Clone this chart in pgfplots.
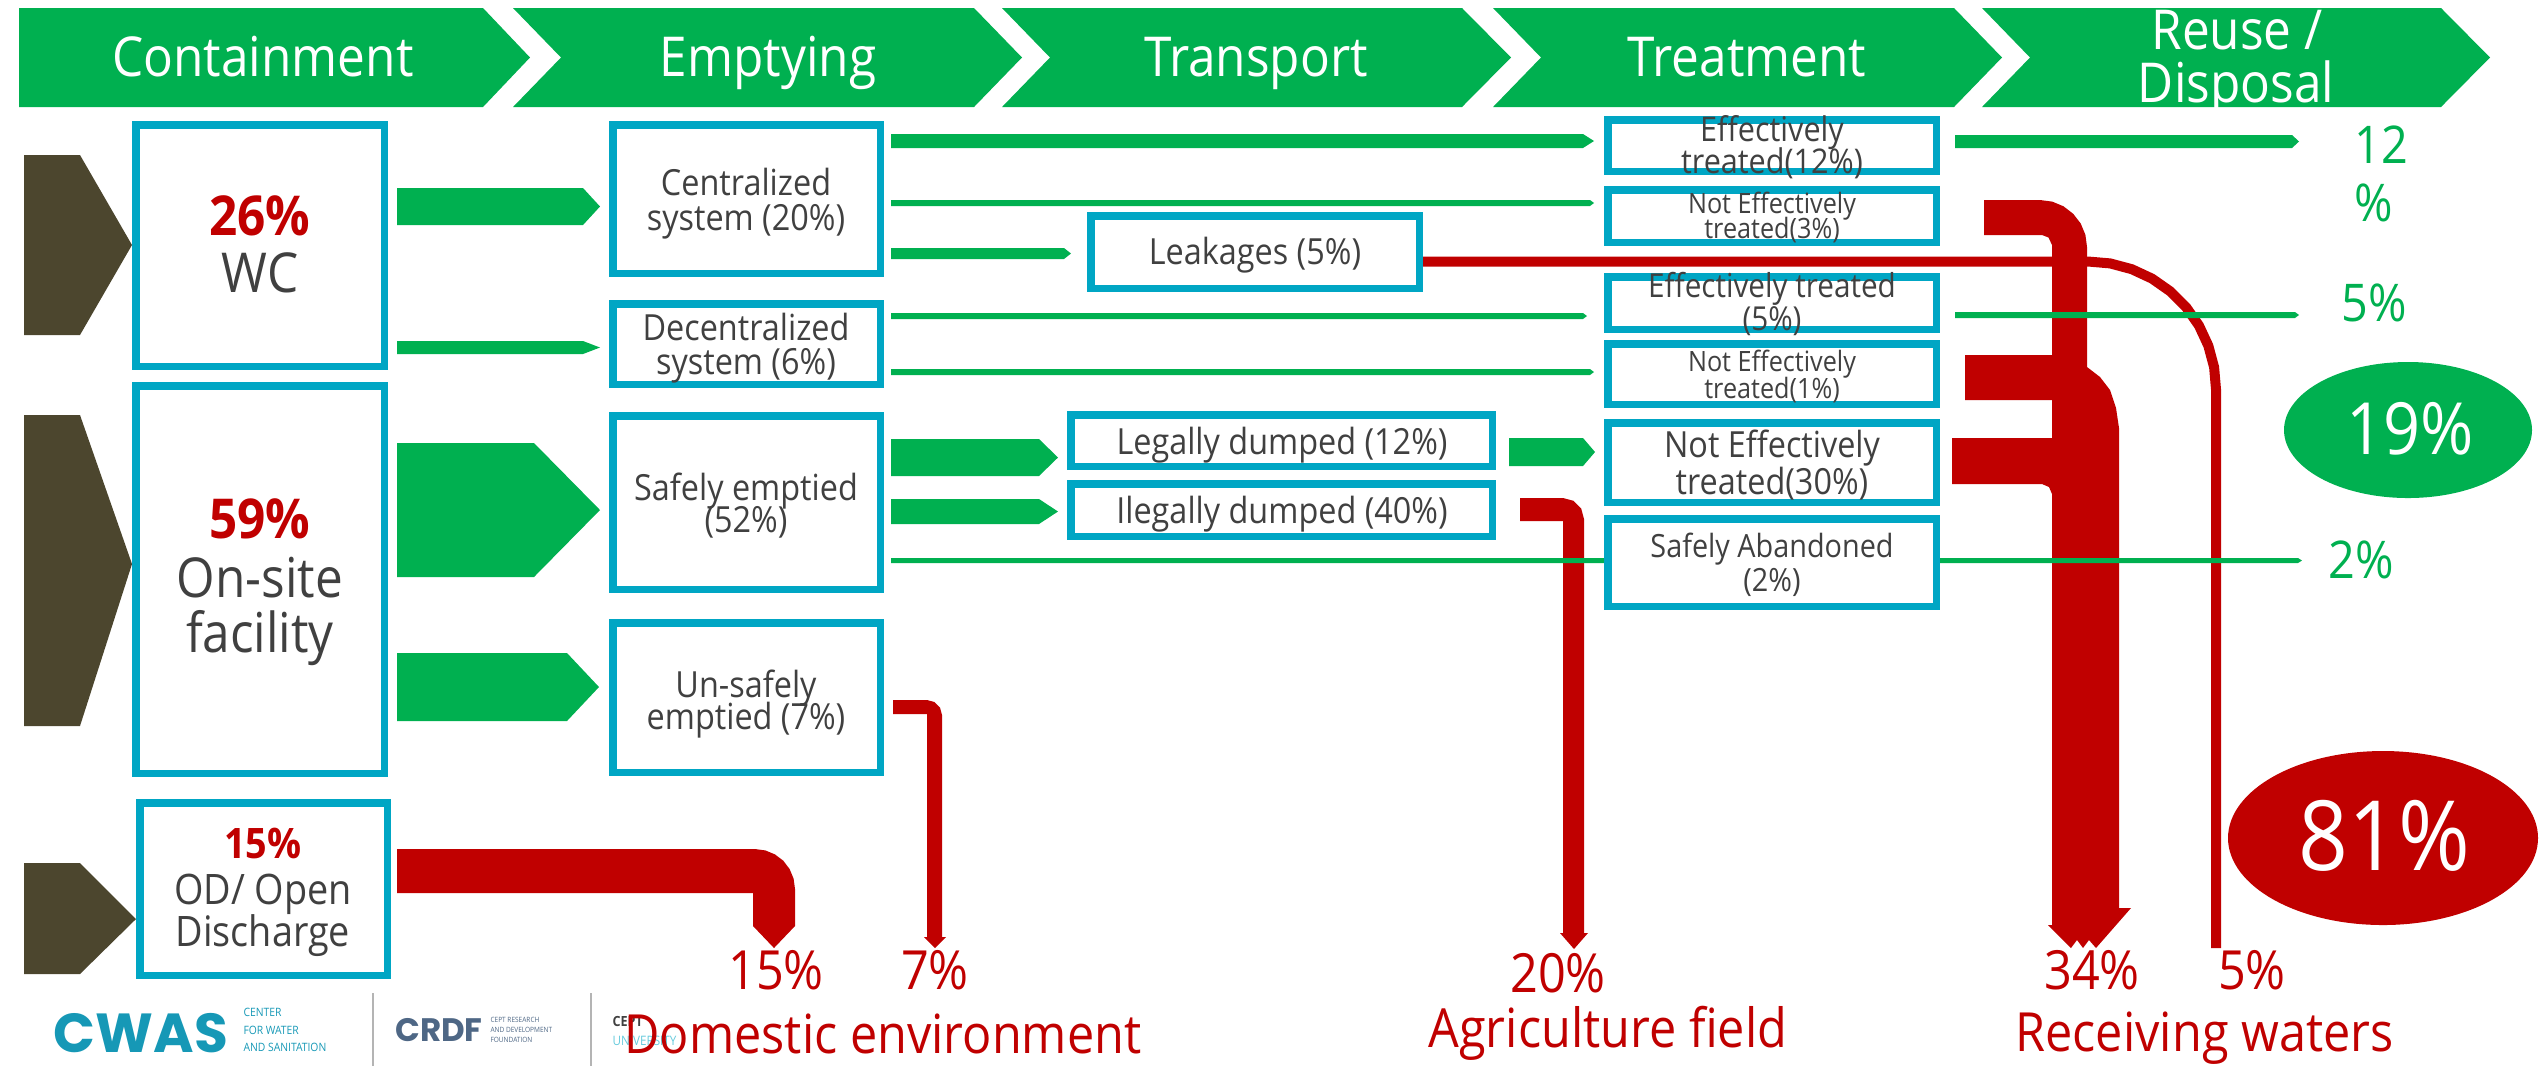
\documentclass[border=0pt]{standalone}
\usepackage{fontspec}
\setmainfont{Open Sans}[FakeStretch=0.9]
\newfontfamily\pop{Poppins}
\usepackage{pgfplots}
\pgfplotsset{compat=1.18}
\usetikzlibrary{shapes.geometric}
\definecolor{gr}{RGB}{0,176,80}
\definecolor{rd}{RGB}{192,0,0}
\definecolor{boxc}{RGB}{0,166,196}
\definecolor{txt}{RGB}{64,64,64}
\definecolor{olive}{RGB}{76,70,46}
\definecolor{cwas}{RGB}{22,152,182}
\definecolor{crdf}{RGB}{78,103,133}
\definecolor{sep}{RGB}{180,180,180}
\tikzset{lb/.style={anchor=base,inner sep=0pt},
  tiny/.style={anchor=base west,inner sep=0pt,text height=0.72em,text depth=0pt}}
\newcommand{\fs}[1]{\fontsize{#1pt}{#1pt}\selectfont}
\newcommand{\bx}[4]{\draw[boxc,line width=3pt,fill=white] (axis cs:#1,#2) rectangle (axis cs:#3,#4);}
\begin{document}
\begin{tikzpicture}
\begin{axis}[width=1015.6pt,height=426.4pt,scale only axis,
  xmin=0,xmax=2539,ymin=0,ymax=1066,y dir=reverse,hide axis,clip=false]
\addplot[draw=none] coordinates {(0,0) (2539,1066)};
\coordinate (TL) at (axis cs:0,0);
\coordinate (BR) at (axis cs:2539,1066);
% banner
\addplot[fill=gr,draw=none] coordinates {(19,8)(483,8)(530,57.5)(483,107)(19,107)};
\addplot[fill=gr,draw=none] coordinates {(513,8)(974,8)(1022,57.5)(974,107)(513,107)(561,57.5)};
\addplot[fill=gr,draw=none] coordinates {(1002,8)(1462,8)(1511,57.5)(1462,107)(1002,107)(1050,57.5)};
\addplot[fill=gr,draw=none] coordinates {(1493,8)(1954,8)(2002,57.5)(1954,107)(1493,107)(1541,57.5)};
\addplot[fill=gr,draw=none] coordinates {(1982,8)(2441,8)(2490,57.5)(2441,107)(1982,107)(2030,57.5)};
% olive chevrons
\addplot[fill=olive,draw=none] coordinates {(24,155)(80,155)(132,245)(80,335)(24,335)};
\addplot[fill=olive,draw=none] coordinates {(24,415)(80,415)(132,564)(80,726)(24,726)};
\addplot[fill=olive,draw=none] coordinates {(24,863)(80,863)(136,919)(80,974)(24,974)};
% red flows
\addplot[fill=rd,draw=none] coordinates {(397,849)(755,849)(765.4,850.4)(775,854.4)(783.3,860.7)(789.6,869)(793.6,878.6)(795,889)(795,926)(774,948)(753,926)(753,893)(397,893)};
\addplot[fill=rd,draw=none] coordinates {(893,700)(927,700)(934.5,702)(940,707.5)(942,715)(942,937)(946,937)(935,948)(924,937)(927,937)(927,714)(893,714)};
\addplot[fill=rd,draw=none] coordinates {(1520,498)(1563,498)(1573.5,500.8)(1581.2,508.5)(1584,519)(1584,933)(1588,933)(1574,949)(1560,933)(1563,933)(1563,521)(1520,521)};
\addplot[fill=rd,draw=none] coordinates {(1984,200)(2040,200)(2052.2,201.6)(2063.5,206.3)(2073.2,213.8)(2080.7,223.5)(2085.4,234.8)(2087,247)(2087,367)(2100,377)(2110,390)(2116,408)(2119,428)(2119,908)(2131,908)(2096,948)(2089,940)(2083,948)(2077,940)(2071,948)(2048,925)(2052,925)(2052,494)(2049,487)(2042,484)(1952,484)(1952,438)(2052,438)(2052,400)(1965,400)(1965,355)(2052,355)(2052,245)(2048.5,237.5)(2042,235)(1984,235)};
\addplot[rd,line width=4pt] coordinates {(1420,261.5)(2088,261.5)(2110.2,263.4)(2131.8,269.2)(2152,278.6)(2170.3,291.4)(2186.1,307.2)(2198.9,325.5)(2208.3,345.7)(2214.1,367.3)(2216,389.5)(2216,948)};
% green flows
\addplot[fill=gr,draw=none] coordinates {(397,188)(583,188)(600,206.5)(583,225)(397,225)};
\addplot[fill=gr,draw=none] coordinates {(397,341)(583,341)(600,347.5)(583,354)(397,354)};
\addplot[fill=gr,draw=none] coordinates {(397,443)(534,443)(600,510)(534,577)(397,577)};
\addplot[fill=gr,draw=none] coordinates {(397,653)(567,653)(599,687)(567,721)(397,721)};
\addplot[fill=gr,draw=none] coordinates {(891,134)(1583,134)(1594,141)(1583,148)(891,148)};
\addplot[fill=gr,draw=none] coordinates {(891,200)(1590,200)(1594,203)(1590,206)(891,206)};
\addplot[fill=gr,draw=none] coordinates {(891,248)(1064,248)(1071,253.5)(1064,259)(891,259)};
\addplot[fill=gr,draw=none] coordinates {(891,313)(1583,313)(1587,316)(1583,319)(891,319)};
\addplot[fill=gr,draw=none] coordinates {(891,369)(1590,369)(1594,372)(1590,375)(891,375)};
\addplot[fill=gr,draw=none] coordinates {(891,439)(1039,439)(1058,457.5)(1039,476)(891,476)};
\addplot[fill=gr,draw=none] coordinates {(891,499)(1039,499)(1058,511.5)(1039,524)(891,524)};
\addplot[fill=gr,draw=none] coordinates {(891,558)(2298,558)(2302,560.5)(2298,563)(891,563)};
\addplot[fill=gr,draw=none] coordinates {(1509,438)(1583,438)(1595,452)(1583,466)(1509,466)};
\addplot[fill=gr,draw=none] coordinates {(1955,135)(2292,135)(2299,141.5)(2292,148)(1955,148)};
\addplot[fill=gr,draw=none] coordinates {(1955,312)(2295,312)(2299,315)(2295,318)(1955,318)};
% boxes
\bx{135.75}{124.75}{384.25}{366.25}
\bx{135.75}{385.75}{384.25}{773.25}
\bx{139.75}{802.75}{387.25}{975.25}
\bx{612.75}{124.75}{880.25}{273.25}
\bx{612.75}{303.75}{880.25}{384.25}
\bx{612.75}{415.75}{880.25}{589.25}
\bx{612.75}{622.75}{880.25}{772.25}
\bx{1090.75}{215.75}{1419.25}{288.25}
\bx{1070.75}{414.75}{1492.25}{466.25}
\bx{1070.75}{483.75}{1492.25}{536.25}
\bx{1607.75}{119.75}{1936.25}{171.25}
\bx{1607.75}{189.75}{1936.25}{242.25}
\bx{1607.75}{276.75}{1936.25}{329.25}
\bx{1607.75}{343.75}{1936.25}{404.25}
\bx{1607.75}{422.75}{1936.25}{502.25}
\bx{1607.75}{518.75}{1936.25}{606.25}
% ellipses
\node[ellipse,fill=gr,minimum width=99.2pt,minimum height=54.4pt,inner sep=0pt] at (axis cs:2408,430) {};
\node[ellipse,fill=rd,minimum width=124pt,minimum height=69.6pt,inner sep=0pt] at (axis cs:2383,838) {};
% banner text
\node[lb,white,font=\fs{22}] at (axis cs:263,76) {Containment};
\node[lb,white,font=\fs{22}] at (axis cs:768,76) {Emptying};
\node[lb,white,font=\fs{22}] at (axis cs:1256,76) {Transport};
\node[lb,white,font=\fs{22}] at (axis cs:1747,76) {Treatment};
\node[lb,white,font=\fs{22}] at (axis cs:2237,49) {Reuse /};
\node[lb,white,font=\fs{22}] at (axis cs:2236,102) {Disposal};
% containment texts
\node[lb,rd,font=\fs{22}\bfseries] at (axis cs:260,235) {26\%};
\node[lb,txt,font=\fs{22}] at (axis cs:260,292) {WC};
\node[lb,rd,font=\fs{22}\bfseries] at (axis cs:260,538) {59\%};
\node[lb,txt,font=\fs{22}] at (axis cs:260,597) {On-site};
\node[lb,txt,font=\fs{22}] at (axis cs:260,652) {facility};
\node[lb,rd,font=\fs{16.8}\bfseries] at (axis cs:263,858) {15\%};
\node[lb,txt,font=\fs{16.8}] at (axis cs:263,904) {OD/ Open};
\node[lb,txt,font=\fs{16.8}] at (axis cs:263,946) {Discharge};
% emptying texts
\node[lb,txt,font=\fs{14.4}] at (axis cs:746,195) {Centralized};
\node[lb,txt,font=\fs{14.4}] at (axis cs:746,230) {system (20\%)};
\node[lb,txt,font=\fs{14.4}] at (axis cs:746,340) {Decentralized};
\node[lb,txt,font=\fs{14.4}] at (axis cs:746,374) {system (6\%)};
\node[lb,txt,font=\fs{14.4}] at (axis cs:746,500) {Safely emptied};
\node[lb,txt,font=\fs{14.4}] at (axis cs:746,532) {(52\%)};
\node[lb,txt,font=\fs{14.4}] at (axis cs:746,697) {Un-safely};
\node[lb,txt,font=\fs{14.4}] at (axis cs:746,729) {emptied (7\%)};
% transport texts
\node[lb,txt,font=\fs{14.4}] at (axis cs:1255,264) {Leakages (5\%)};
\node[lb,txt,font=\fs{14.4}] at (axis cs:1282,454) {Legally dumped (12\%)};
\node[lb,txt,font=\fs{14.4}] at (axis cs:1282,523) {Ilegally dumped (40\%)};
% treatment texts
\node[lb,txt,font=\fs{13.6}] at (axis cs:1772,141) {Effectively};
\node[lb,txt,font=\fs{13.6}] at (axis cs:1772,173) {treated(12\%)};
\node[lb,txt,font=\fs{11.2}] at (axis cs:1772,213) {Not Effectively};
\node[lb,txt,font=\fs{11.2}] at (axis cs:1772,238) {treated(3\%)};
\node[lb,txt,font=\fs{13.2}] at (axis cs:1772,297) {Effectively treated};
\node[lb,txt,font=\fs{13.2}] at (axis cs:1772,330) {(5\%)};
\node[lb,txt,font=\fs{11.2}] at (axis cs:1772,371) {Not Effectively};
\node[lb,txt,font=\fs{11.2}] at (axis cs:1772,398) {treated(1\%)};
\node[lb,txt,font=\fs{14.4}] at (axis cs:1772,457) {Not Effectively};
\node[lb,txt,font=\fs{14.4}] at (axis cs:1772,494) {treated(30\%)};
\node[lb,txt,font=\fs{12.8}] at (axis cs:1772,557) {Safely Abandoned};
\node[lb,txt,font=\fs{12.8}] at (axis cs:1772,591) {(2\%)};
% reuse texts
\node[lb,gr,font=\fs{20.8}] at (axis cs:2381,163) {12};
\node[lb,gr,font=\fs{20.8}] at (axis cs:2374,221) {\%};
\node[lb,gr,font=\fs{20.8}] at (axis cs:2374,321) {5\%};
\node[lb,gr,font=\fs{20.8}] at (axis cs:2361,578) {2\%};
\node[lb,white,font=\fs{28.8}] at (axis cs:2410,454) {19\%};
\node[lb,white,font=\fs{38.8}] at (axis cs:2384,870) {81\%};
% bottom labels
\node[lb,rd,font=\fs{21.6}] at (axis cs:776,989) {15\%};
\node[lb,rd,font=\fs{21.6}] at (axis cs:935,989) {7\%};
\node[lb,rd,font=\fs{21.6}] at (axis cs:1558,992) {20\%};
\node[lb,rd,font=\fs{21.6}] at (axis cs:2092,989) {34\%};
\node[lb,rd,font=\fs{21.6}] at (axis cs:2252,989) {5\%};
% logos
\node[lb,cwas,font=\fs{22}\pop\bfseries,text height=0.72em,text depth=0pt] at (axis cs:141,1052) {CWAS};
\node[tiny,cwas,font=\fs{4.6}] at (axis cs:243,1016) {CENTER};
\node[tiny,cwas,font=\fs{4.6}] at (axis cs:243,1034) {FOR WATER};
\node[tiny,cwas,font=\fs{4.6}] at (axis cs:243,1051) {AND SANITATION};
\addplot[sep,line width=0.8pt] coordinates {(373,993)(373,1066)};
\addplot[sep,line width=0.8pt] coordinates {(591,993)(591,1066)};
\node[lb,crdf,font=\fs{13}\pop\bfseries,text height=0.72em,text depth=0pt] at (axis cs:439,1041) {CRDF};
\node[tiny,crdf,font=\fs{2.9}] at (axis cs:490,1022) {CEPT RESEARCH};
\node[tiny,crdf,font=\fs{2.9}] at (axis cs:490,1032) {AND DEVELOPMENT};
\node[tiny,crdf,font=\fs{2.9}] at (axis cs:490,1042) {FOUNDATION};
\node[tiny,txt,font=\fs{5.6}\bfseries] at (axis cs:612,1026) {CEPT};
\node[tiny,boxc!60,font=\fs{5.2}] at (axis cs:612,1045) {UNIVERSITY};
\node[lb,anchor=base west,rd,font=\fs{21.6}] at (axis cs:624,1053) {Domestic environment};
\node[lb,anchor=base west,rd,font=\fs{21.6}] at (axis cs:1428,1047) {Agriculture field};
\node[lb,anchor=base west,rd,font=\fs{21.6}] at (axis cs:2015,1051) {Receiving waters};
\end{axis}
\pgfresetboundingbox
\useasboundingbox (TL) rectangle (BR);
\end{tikzpicture}
\end{document}
